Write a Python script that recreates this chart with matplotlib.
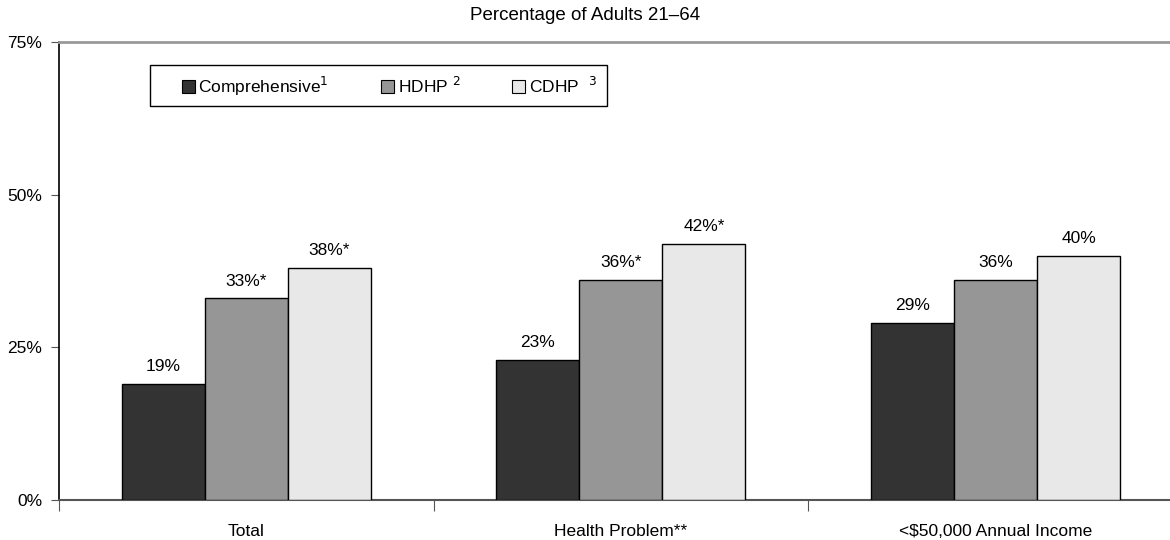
import matplotlib.pyplot as plt
import numpy as np
from matplotlib.patches import Patch, Rectangle

plt.rcParams['font.family'] = ['Liberation Sans', 'DejaVu Sans']

categories = ['Total', 'Health Problem**', '<$50,000 Annual Income']
comprehensive = [19, 23, 29]
hdhp = [33, 36, 36]
cdhp = [38, 42, 40]
labels_comp = ['19%', '23%', '29%']
labels_hdhp = ['33%*', '36%*', '36%']
labels_cdhp = ['38%*', '42%*', '40%']
series_names = ['Comprehensive$^{1}$', 'HDHP $^{2}$', 'CDHP  $^{3}$']
colors = ['#333333', '#969696', '#e8e8e8']

W, H = 1170, 540
fs = 12.5
fig = plt.figure(figsize=(W / 100, H / 100), dpi=100)
ax = fig.add_axes([59 / W, 1 - 500 / H, (W - 59) / W, (500 - 42) / H])

x = np.arange(len(categories))
bw = 83 / 374.6
series = [comprehensive, hdhp, cdhp]
labs = [labels_comp, labels_hdhp, labels_cdhp]
for i, (vals, lab) in enumerate(zip(series, labs)):
    pos = x + (i - 1) * bw
    ax.bar(pos, vals, bw, color=colors[i], edgecolor='black', linewidth=1.0, zorder=3)
    for p, v, t in zip(pos, vals, lab):
        ax.text(p, v + 1.6, t, ha='center', va='bottom', fontsize=fs)

ax.set_xlim(-0.5, -0.5 + (W - 59) / 374.6)
ax.set_ylim(0, 75)
ax.set_yticks([0, 25, 50, 75])
ax.set_yticklabels(['0%', '25%', '50%', '75%'], fontsize=fs)
ax.set_xticks([-0.5, 0.5, 1.5], minor=False)
ax.set_xticklabels([])
ax.set_xticks(x, minor=True)
ax.set_xticklabels(categories, minor=True, fontsize=fs)
ax.tick_params(axis='x', which='major', direction='out', length=8, color='#555555')
ax.tick_params(axis='x', which='minor', length=0, pad=17)
ax.tick_params(axis='y', direction='out', length=6, color='#555555', pad=6)

ax.spines['right'].set_visible(False)
ax.spines['top'].set_color('#999999')
ax.spines['top'].set_linewidth(2)
ax.spines['bottom'].set_color('#555555')
ax.spines['bottom'].set_linewidth(1.5)
ax.spines['left'].set_color('black')
ax.spines['left'].set_linewidth(1.2)

# legend frame drawn separately so the padding can match
frame = Rectangle((150 / W, 1 - 106 / H), (607 - 150) / W, (106 - 65) / H,
                  transform=fig.transFigure, facecolor='white', edgecolor='black',
                  linewidth=1.0, zorder=5)
fig.patches.append(frame)
handles = [Patch(facecolor=c, edgecolor='black', linewidth=0.8) for c in colors]
leg = fig.legend(handles, series_names, ncol=3, loc='center left',
                 bbox_to_anchor=(182 / W, 1 - 86 / H),
                 fontsize=fs, frameon=False,
                 handlelength=0.75, handleheight=0.75, handletextpad=0.2,
                 columnspacing=3.0, borderpad=0, borderaxespad=0)
leg.set_zorder(6)

fig.text(0.5, 1 - 15 / H, 'Percentage of Adults 21\u201364', ha='center', va='center', fontsize=13.5)

fig.savefig('out.png', dpi=100)
